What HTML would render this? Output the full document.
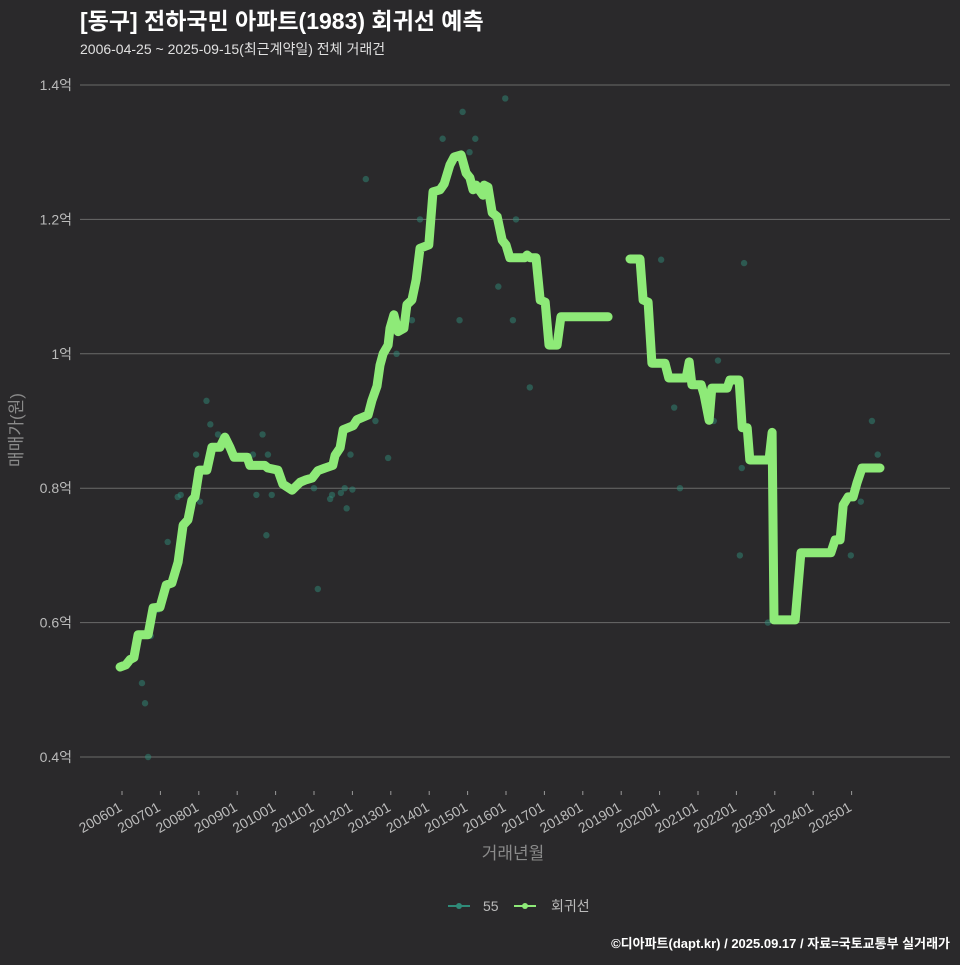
<!DOCTYPE html>
<html><head><meta charset="utf-8">
<style>
body{margin:0;background:#2a292b;width:960px;height:960px;overflow:hidden;font-family:"Liberation Sans","Noto Sans CJK KR",sans-serif;}
svg text{font-family:"Liberation Sans","Noto Sans CJK KR",sans-serif;}
</style></head>
<body>
<svg id="chart" width="960" height="960" viewBox="0 0 960 960" xmlns="http://www.w3.org/2000/svg">
<rect width="960" height="960" fill="#2a292b"/>
<text x="80" y="29" fill="#ffffff" font-size="23" font-weight="bold">[동구] 전하국민 아파트(1983) 회귀선 예측</text>
<text x="80" y="54" fill="#e0e0e0" font-size="14">2006-04-25 ~ 2025-09-15(최근계약일) 전체 거래건</text>
<g id="grid"></g>
<g id="scatter"></g>
<g id="line"></g>
<g id="xaxis"></g>
<text x="513" y="859" fill="#8a8a8a" font-size="17" text-anchor="middle">거래년월</text>
<text transform="translate(22,430) rotate(-90)" fill="#8a8a8a" font-size="17" text-anchor="middle">매매가(원)</text>
<g>
<g>
<line x1="448" y1="906" x2="470" y2="906" stroke="#2f8a78" stroke-width="2"/><circle cx="459" cy="906" r="3" fill="#2f8a78"/>
<text x="483" y="911" fill="#bbbbbb" font-size="14">55</text></g>
<g>
<line x1="514" y1="906" x2="536" y2="906" stroke="#8eea78" stroke-width="2"/><circle cx="525" cy="906" r="3" fill="#8eea78"/>
<text x="551" y="911" fill="#bbbbbb" font-size="14">회귀선</text></g>
</g>
<text x="950" y="948" fill="#ffffff" font-size="13" font-weight="bold" text-anchor="end">©디아파트(dapt.kr) / 2025.09.17 / 자료=국토교통부 실거래가</text>
</svg>
<script>
const yTicks=[0.4,0.6,0.8,1.0,1.2,1.4];
const yTickLabels=["0.4억","0.6억","0.8억","1억","1.2억","1.4억"];
const xTickYears=[2006,2007,2008,2009,2010,2011,2012,2013,2014,2015,2016,2017,2018,2019,2020,2021,2022,2023,2024,2025];
const xTickLabels=["200601","200701","200801","200901","201001","201101","201201","201301","201401","201501","201601","201701","201801","201901","202001","202101","202201","202301","202401","202501"];
const lineA_t=[2005.95,2006.10,2006.21,2006.31,2006.42,2006.68,2006.81,2006.99,2007.15,2007.30,2007.46,2007.59,2007.72,2007.82,2007.90,2008.01,2008.21,2008.34,2008.55,2008.68,2008.81,2008.92,2009.26,2009.33,2009.72,2009.80,2010.06,2010.19,2010.43,2010.64,2010.77,2010.95,2011.10,2011.29,2011.49,2011.55,2011.68,2011.76,2011.89,2012.02,2012.12,2012.41,2012.51,2012.64,2012.72,2012.80,2012.93,2012.98,2013.08,2013.19,2013.34,2013.42,2013.55,2013.66,2013.76,2013.99,2014.10,2014.28,2014.39,2014.54,2014.65,2014.83,2014.96,2015.06,2015.14,2015.22,2015.30,2015.40,2015.43,2015.53,2015.64,2015.77,2015.90,2016.00,2016.10,2016.49,2016.55,2016.63,2016.78,2016.89,2017.02,2017.12,2017.33,2017.43,2018.66];
const lineA_v=[0.534,0.537,0.545,0.548,0.582,0.582,0.622,0.623,0.656,0.659,0.690,0.745,0.753,0.782,0.787,0.827,0.827,0.861,0.861,0.876,0.861,0.846,0.846,0.834,0.834,0.830,0.827,0.806,0.797,0.809,0.812,0.815,0.826,0.830,0.834,0.849,0.860,0.887,0.890,0.893,0.902,0.909,0.931,0.952,0.983,1.000,1.013,1.038,1.058,1.033,1.038,1.073,1.080,1.110,1.157,1.162,1.241,1.244,1.253,1.281,1.293,1.296,1.269,1.262,1.244,1.251,1.244,1.236,1.251,1.248,1.210,1.204,1.169,1.162,1.143,1.143,1.147,1.143,1.143,1.080,1.077,1.013,1.013,1.055,1.055];
const lineB_t=[2019.23,2019.49,2019.57,2019.70,2019.80,2020.14,2020.24,2020.69,2020.77,2020.84,2021.08,2021.16,2021.29,2021.36,2021.76,2021.83,2022.07,2022.15,2022.28,2022.35,2022.85,2022.93,2022.98,2023.53,2023.68,2024.46,2024.57,2024.70,2024.78,2024.91,2025.04,2025.14,2025.27,2025.74];
const lineB_v=[1.141,1.141,1.080,1.077,0.986,0.986,0.964,0.964,0.988,0.954,0.954,0.939,0.901,0.949,0.949,0.961,0.961,0.890,0.890,0.842,0.842,0.883,0.604,0.604,0.704,0.704,0.723,0.723,0.775,0.787,0.787,0.808,0.830,0.830];
const dotT=[2006.52,2006.6,2006.68,2006.75,2006.78,2006.93,2007.19,2007.45,2007.53,2007.93,2008.03,2008.2,2008.3,2008.5,2009.41,2009.66,2009.76,2009.5,2009.9,2009.8,2011.1,2011.0,2011.42,2011.47,2011.7,2011.8,2011.85,2012.0,2011.95,2012.35,2012.6,2012.93,2013.15,2013.55,2013.62,2013.76,2014.35,2014.79,2014.87,2015.05,2015.2,2015.8,2015.98,2016.18,2016.26,2016.62,2020.04,2020.38,2020.53,2021.41,2021.52,2022.09,2022.2,2022.14,2022.82,2024.98,2025.24,2025.53,2025.68];
const dotV=[0.51,0.48,0.4,0.58,0.6,0.619,0.72,0.787,0.79,0.85,0.78,0.93,0.895,0.88,0.85,0.88,0.73,0.79,0.79,0.85,0.65,0.8,0.784,0.79,0.793,0.8,0.77,0.798,0.85,1.26,0.9,0.845,1.0,1.05,1.105,1.2,1.32,1.05,1.36,1.3,1.32,1.1,1.38,1.05,1.2,0.95,1.14,0.92,0.8,0.9,0.99,0.7,1.135,0.83,0.6,0.7,0.78,0.9,0.85];
const NS="http://www.w3.org/2000/svg";
const xS=t=>122+(t-2006)*38.4;
const yS=v=>757-(v-0.4)*672;
function mk(tag,attrs,parent){const e=document.createElementNS(NS,tag);for(const k in attrs)e.setAttribute(k,attrs[k]);parent.appendChild(e);return e;}
const grid=document.getElementById('grid');
yTicks.forEach((v,i)=>{
  const l=mk('line',{x1:80,x2:950,y1:yS(v),y2:yS(v),stroke:'#6a6a6a','stroke-width':1},grid);
  
  
  const t=mk('text',{x:72,y:yS(v)+5,fill:'#bbbbbb','font-size':14,'text-anchor':'end'},grid);
  t.textContent=yTickLabels[i];
  
  
});
const xa=document.getElementById('xaxis');
xTickYears.forEach((yr,i)=>{
  const x=xS(yr);
  const tk=mk('line',{x1:x,x2:x,y1:791,y2:795,stroke:'#999','stroke-width':1},xa);
  
  
  const t=mk('text',{transform:`translate(${x+1},${810}) rotate(-30)`,fill:'#bbbbbb','font-size':14,'text-anchor':'end'},xa);
  t.textContent=xTickLabels[i];
  
  
});
const sc=document.getElementById('scatter');
dotT.forEach((t,i)=>{
  const c=mk('circle',{cx:xS(t),cy:yS(dotV[i]),r:3.2,fill:'#2f8a78','fill-opacity':0.5},sc);
  
  
});
const lg=document.getElementById('line');
[[lineA_t,lineA_v],[lineB_t,lineB_v]].forEach(([T,V])=>{
  const d=T.map((t,i)=>(i?'L':'M')+xS(t).toFixed(1)+','+yS(V[i]).toFixed(1)).join(' ');
  const p=mk('path',{d:d,fill:'none',stroke:'#8eea78','stroke-width':9,'stroke-linejoin':'round','stroke-linecap':'round'},lg);
  
  
});
</script>
</body></html>
